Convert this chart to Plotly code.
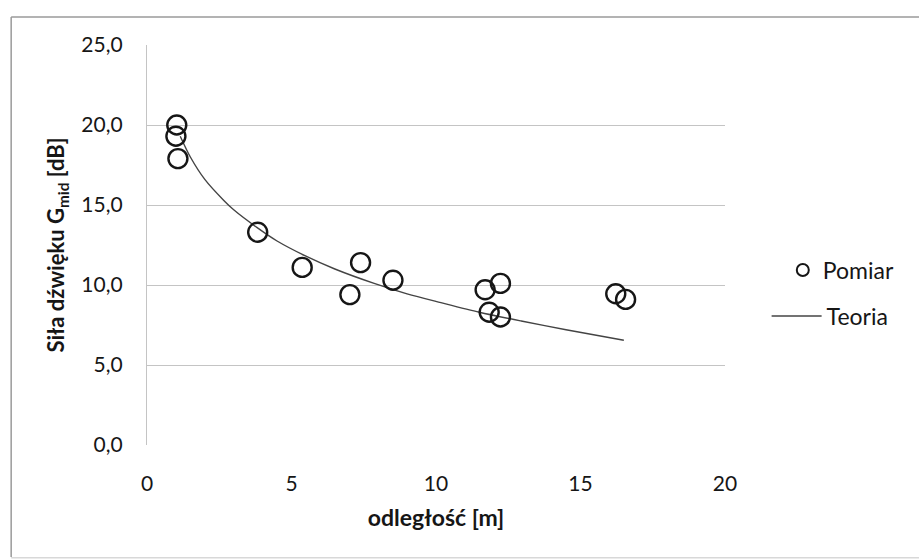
import plotly.graph_objects as go

# Measured points (Pomiar)
meas_x = [1.03, 1.00, 1.07, 3.83, 5.37, 7.39, 7.02, 8.51, 11.70, 12.23, 11.84, 12.23, 16.22, 16.56]
meas_y = [20.0, 19.3, 17.9, 13.3, 11.1, 11.4, 9.4, 10.3, 9.7, 10.1, 8.3, 8.0, 9.45, 9.1]

# Theory curve (Teoria)
theo_x = [1.15, 1.5, 2.0, 2.65, 3.0, 3.8, 4.5, 5.5, 6.5, 7.86, 9.0, 10.17, 11.5, 12.95, 14.5, 16.5]
theo_y = [19.3, 18.0, 16.6, 15.3, 14.7, 13.6, 12.75, 11.8, 11.0, 10.1, 9.45, 8.9, 8.3, 7.75, 7.2, 6.55]

x_ticks = [0, 5, 10, 15, 20]
y_ticks = [0, 5, 10, 15, 20, 25]
y_ticklabels = ["0,0", "5,0", "10,0", "15,0", "20,0", "25,0"]

FONT = "Lato, 'Open Sans', sans-serif"
INK = "#161616"
GRID = "#c4c4c4"

fig = go.Figure()
fig.add_trace(go.Scatter(
    x=theo_x, y=theo_y, mode="lines", name="Teoria",
    line=dict(color="#444444", width=1.4, shape="spline", smoothing=0.8),
    legend="legend2",
))
fig.add_trace(go.Scatter(
    x=meas_x, y=meas_y, mode="markers", name="Pomiar",
    marker=dict(symbol="circle-open", size=19, color=INK, line=dict(width=2.4, color=INK)),
    legend="legend",
))

fig.update_layout(
    width=919, height=560,
    margin=dict(l=147, r=194, t=45, b=115),
    paper_bgcolor="white", plot_bgcolor="white",
    font=dict(family=FONT, size=21, color=INK),
    legend=dict(x=1.1, y=0.4375, xanchor="left", yanchor="middle",
                font=dict(size=23, family=FONT, color=INK),
                itemsizing="constant", bgcolor="rgba(0,0,0,0)"),
    legend2=dict(x=1.072, y=0.3225, xanchor="left", yanchor="middle",
                 font=dict(size=23, family=FONT, color=INK),
                 itemwidth=50, bgcolor="rgba(0,0,0,0)"),
    xaxis=dict(
        range=[0, 20], tickvals=x_ticks, ticktext=[str(v) for v in x_ticks],
        showgrid=False, zeroline=False, showline=False,
        ticks="", ticklabelstandoff=24,
        tickfont=dict(size=21, family=FONT, color=INK),
        title=dict(text="<b>odległość [m]</b>", standoff=15,
                   font=dict(size=23, family=FONT, color=INK)),
    ),
    yaxis=dict(
        range=[0, 25], tickvals=y_ticks, ticktext=y_ticklabels,
        showgrid=True, gridcolor=GRID, gridwidth=1.3,
        zeroline=False, showline=True, linecolor=GRID, linewidth=1.3,
        ticks="", ticklabelstandoff=19,
        tickfont=dict(size=21, family=FONT, color=INK),
        title=dict(text="<b>Siła dźwięku G<sub>mid</sub> [dB]</b>", standoff=10,
                   font=dict(size=22, family=FONT, color=INK)),
    ),
    showlegend=True,
)

# Outer chart frame
fig.add_shape(type="line", xref="paper", yref="paper",
              x0=-0.235, x1=1.35, y0=1.07, y1=1.07,
              line=dict(color="#9a9a9a", width=1.5))
fig.add_shape(type="line", xref="paper", yref="paper",
              x0=-0.235, x1=-0.235, y0=1.07, y1=-0.28,
              line=dict(color="#9a9a9a", width=1.5))
fig.add_shape(type="line", xref="paper", yref="paper",
              x0=-0.235, x1=1.35, y0=-0.282, y1=-0.282,
              line=dict(color="#d8d8d8", width=1.5))

fig.write_html("out.html")
